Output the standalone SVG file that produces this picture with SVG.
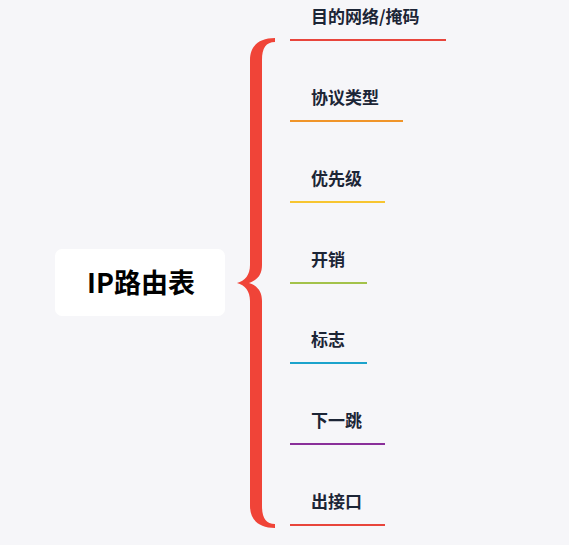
<svg xmlns="http://www.w3.org/2000/svg" width="569" height="545" viewBox="0 0 569 545">
<style>
.lbl{font-family:"Noto Sans CJK SC","Noto Sans",sans-serif;font-weight:700;font-size:17px;fill:#1c2536}
.ul{stroke-width:2;fill:none}
.root{font-family:"Noto Sans CJK SC","Noto Sans",sans-serif;font-weight:700;font-size:27px;fill:#000}
</style>
<rect width="569" height="545" fill="#f6f6f9"/>
<g id="connectors">
<path d="M275,38 C259,38 250,46 250,60 L250,265 C250,275 245,281 237,283 C245,285 250,291 250,301 L250,506 C250,520 259,528 275,528 L275,524 C266,524 262,518 262,506 L262,301 C262,292 258,286 249,283 C258,280 262,274 262,265 L262,60 C262,48 266,42 275,42 Z" fill="#f04438"/>
</g>
<g id="root">
<rect x="55" y="249" width="170" height="67" rx="7" fill="#ffffff"/>
<text class="root" x="141" y="293" text-anchor="middle">IP路由表</text>
</g>
<g id="n1"><text class="lbl" x="311" y="23">目的网络/掩码</text><line class="ul" x1="290" y1="40" x2="446" y2="40" stroke="#e8453c"/></g>
<g id="n2"><text class="lbl" x="311" y="104">协议类型</text><line class="ul" x1="290" y1="121" x2="403" y2="121" stroke="#f0952a"/></g>
<g id="n3"><text class="lbl" x="311" y="185">优先级</text><line class="ul" x1="290" y1="202" x2="385" y2="202" stroke="#f7c531"/></g>
<g id="n4"><text class="lbl" x="311" y="266">开销</text><line class="ul" x1="290" y1="283" x2="367" y2="283" stroke="#a3c24a"/></g>
<g id="n5"><text class="lbl" x="311" y="346">标志</text><line class="ul" x1="290" y1="363" x2="367" y2="363" stroke="#1ca3cc"/></g>
<g id="n6"><text class="lbl" x="311" y="427">下一跳</text><line class="ul" x1="290" y1="444" x2="385" y2="444" stroke="#8a2f9a"/></g>
<g id="n7"><text class="lbl" x="311" y="508">出接口</text><line class="ul" x1="290" y1="525" x2="385" y2="525" stroke="#e8453c"/></g>
</svg>
